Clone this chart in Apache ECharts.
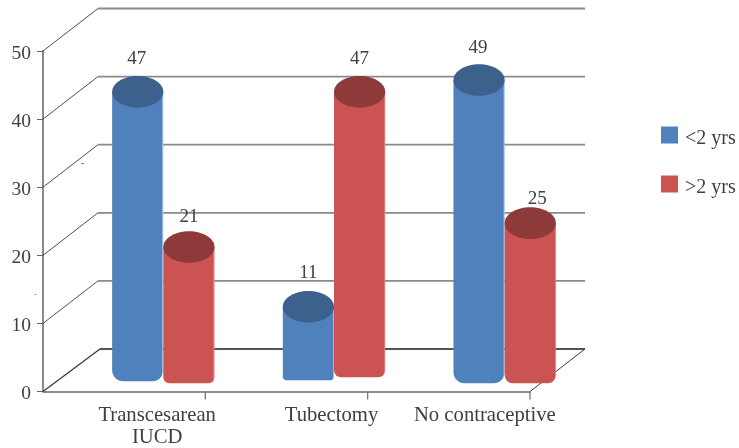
<!DOCTYPE html>
<html>
<head>
<meta charset="utf-8">
<style>html,body{margin:0;padding:0;background:#fff}#chart{width:739px;height:448px}</style>
<script src="https://cdn.jsdelivr.net/npm/echarts@6/dist/echarts.min.js"></script>
</head>
<body>
<div id="chart"></div>
<script>
// Values
const categories = ['Transcesarean\nIUCD', 'Tubectomy', 'No contraceptive'];
const under2Yrs = [47, 11, 49];
const over2Yrs = [21, 47, 25];
const wallTicks = [0, 10, 20, 30, 40, 50];

// Perspective of the box: how far the back wall sits from the front plane
const depthX = 55;
const depthY = -42.5;

// Cylinder look
const barRatio = 0.3;
const capRadiusY = 15.8;
const inkColor = '#404040';
const fonts = '"Liberation Serif", serif';

// Per-category tweaks of each cylinder's foot and label
const blueFoot = { drop: [9, 8, 11], radius: [11, 4, 11], nudge: [-1, 0, -1], lift: [17, 18, 16] };
const redFoot = { drop: [11, 5, 11], radius: [6, 7, 8], nudge: [0, 0, 7], lift: [14, 17, 8] };

// Horizontal shift of each category caption, as rich-text padding
const captionPad = [66, 90, 72];

function edgeFill(base, edge) {
  return {
    type: 'linear', x: 0, y: 0, x2: 1, y2: 0,
    colorStops: [
      { offset: 0, color: base },
      { offset: 0.975, color: base },
      { offset: 0.98, color: edge },
      { offset: 1, color: edge }
    ]
  };
}

function cylinderSeries(name, values, side, look) {
  return {
    name: name,
    type: 'custom',
    xAxisIndex: 1,
    yAxisIndex: 2,
    z: side < 0 ? 3 : 4,
    itemStyle: { color: look.color },
    data: values.map((v, i) => [i, v]),
    encode: { x: 0, y: 1 },
    renderItem: function (params, api) {
      const i = api.value(0);
      const v = api.value(1);
      const band = api.size([1, 0])[0];
      const w = band * barRatio;
      const center = api.coord([i, v]);
      const zero = api.coord([i, 0]);
      const cx = center[0] + side * w / 2;
      const foot = zero[1] + look.foot.drop[i];
      const r = look.foot.radius[i];
      return {
        type: 'group',
        children: [
          {
            type: 'rect',
            shape: { x: cx - w / 2, y: center[1], width: w, height: foot - center[1], r: [0, 0, r, r] },
            style: { fill: edgeFill(look.color, look.edge) }
          },
          {
            type: 'ellipse',
            shape: { cx: cx, cy: center[1], rx: w / 2, ry: capRadiusY },
            style: { fill: look.cap }
          },
          {
            type: 'text',
            style: {
              x: cx + look.foot.nudge[i],
              y: center[1] - capRadiusY - look.foot.lift[i],
              text: String(v),
              fill: inkColor,
              font: '19px ' + fonts,
              align: 'center',
              verticalAlign: 'middle'
            }
          }
        ]
      };
    }
  };
}

// Back wall rules, floor outline and the slanted lines joining them to the front plane
const wallSeries = {
  type: 'custom',
  xAxisIndex: 0,
  yAxisIndex: 0,
  z: 1,
  silent: true,
  data: wallTicks.map(v => [0, v]),
  encode: { x: 0, y: 1 },
  renderItem: function (params, api) {
    const v = api.value(1);
    const sys = params.coordSys;
    const y = api.coord([0, v])[1];
    const x0 = sys.x;
    const x1 = sys.x + sys.width;
    const isFloor = v === 0;
    const children = [
      {
        type: 'line',
        shape: { x1: x0 + depthX + (isFloor ? 2 : 0), y1: y + depthY, x2: x1 + depthX, y2: y + depthY },
        style: { stroke: isFloor ? '#555555' : '#8a8a8a', lineWidth: 1.8 }
      },
      {
        type: 'line',
        shape: { x1: x0, y1: y, x2: x0 + depthX + (isFloor ? 2 : 0), y2: y + depthY },
        style: { stroke: '#3a3a3a', lineWidth: isFloor ? 1.3 : 0.9 }
      }
    ];
    if (isFloor) {
      children.push({
        type: 'line',
        shape: { x1: x1, y1: y, x2: x1 + depthX, y2: y + depthY },
        style: { stroke: '#3a3a3a', lineWidth: 1 }
      });
      // Category separators hanging below the front edge
      categories.forEach((c, k) => {
        const tx = x0 + sys.width * (k + 1) / categories.length;
        children.push({
          type: 'line',
          shape: { x1: tx, y1: y, x2: tx, y2: y + 8 },
          style: { stroke: '#777777', lineWidth: 1.3 }
        });
      });
    }
    return { type: 'group', children: children };
  }
};

const captionRich = {};
captionPad.forEach((p, i) => {
  captionRich['c' + i] = { padding: [0, 0, 0, p], color: inkColor, fontFamily: fonts, fontSize: 20.7, lineHeight: 22 };
});

const chart = echarts.init(document.getElementById('chart'), null, { renderer: 'canvas' });
chart.setOption({
  animation: false,
  backgroundColor: '#ffffff',
  textStyle: { fontFamily: fonts },
  grid: [
    { left: 43, top: 51, width: 487, height: 341 },
    { left: 78, top: 51, width: 512, height: 341 }
  ],
  xAxis: [
    {
      gridIndex: 0,
      type: 'category',
      data: categories,
      axisLine: { lineStyle: { color: '#6a6a6a', width: 1.6 } },
      axisTick: { show: false },
      axisLabel: {
        interval: 0,
        margin: 13,
        hideOverlap: false,
        formatter: function (value, index) {
          return value.split('\n').map(t => '{c' + index + '|' + t + '}').join('\n');
        },
        rich: captionRich
      }
    },
    { gridIndex: 1, type: 'category', data: categories, show: false }
  ],
  yAxis: [
    {
      gridIndex: 0,
      type: 'value',
      min: 0,
      max: 50,
      interval: 10,
      splitLine: { show: false },
      axisLine: { show: true, lineStyle: { color: '#8a8a8a', width: 2 } },
      axisTick: { show: true, length: 6, lineStyle: { color: '#666666', width: 1 } },
      axisLabel: {
        margin: 12,
        formatter: '{n|{value}}',
        rich: { n: { color: inkColor, fontFamily: fonts, fontSize: 19.5, padding: [5, 0, 0, 0] } }
      }
    },
    { gridIndex: 0, type: 'value', min: 0, max: 50, show: false },
    // Scale of the cylinders, set back from the front plane by the box depth
    { gridIndex: 1, type: 'value', min: -3.3, max: 53.85, show: false, splitLine: { show: false } }
  ],
  legend: {
    data: ['<2 yrs', '>2 yrs'],
    orient: 'vertical',
    left: 661,
    top: 121.5,
    itemWidth: 17,
    itemHeight: 17,
    itemGap: 22,
    icon: 'rect',
    selectedMode: false,
    padding: 0,
    formatter: '{t|{name}}',
    textStyle: {
      rich: { t: { color: inkColor, fontFamily: fonts, fontSize: 20, lineHeight: 17, padding: [7, 0, 0, 2] } }
    }
  },
  graphic: [
    { type: 'text', left: 81, top: 158, style: { text: '-', fill: '#555555', font: '10px ' + fonts } },
    { type: 'text', left: 34, top: 287, style: { text: '.', fill: '#555555', font: '10px ' + fonts } }
  ],
  series: [
    wallSeries,
    cylinderSeries('<2 yrs', under2Yrs, -1, { color: '#4f81bd', cap: '#3d618d', edge: '#9dbbe0', foot: blueFoot }),
    cylinderSeries('>2 yrs', over2Yrs, 1, { color: '#cb5351', cap: '#8e3a3a', edge: '#d87a78', foot: redFoot })
  ]
});
</script>
</body>
</html>
